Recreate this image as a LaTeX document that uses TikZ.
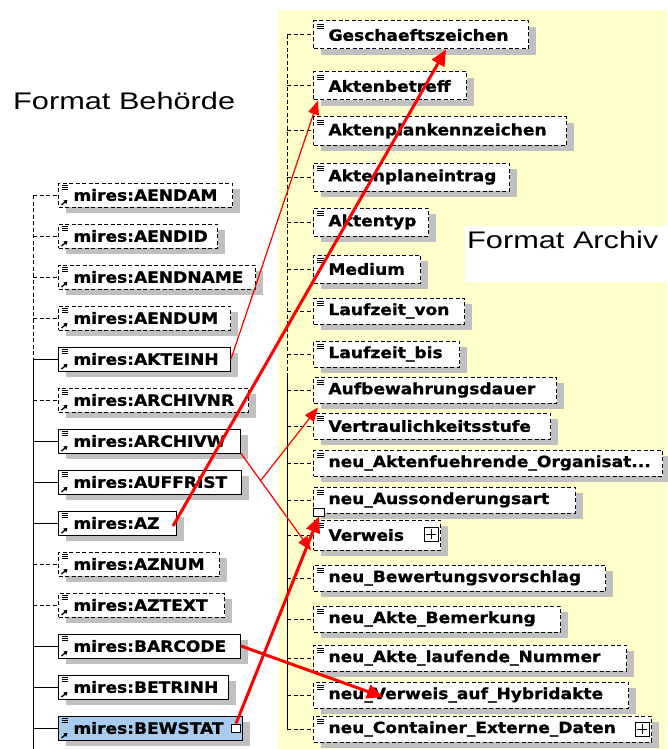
\documentclass[tikz,border=0pt]{standalone}
\usepackage{fontspec}
\usetikzlibrary{arrows.meta,shadows}
\newfontfamily\boxfont[FakeStretch=1.1,FakeBold=1]{DejaVu Sans}
\newfontfamily\titlefont[FakeStretch=1.28]{Liberation Sans}
\definecolor{archivbg}{RGB}{255,255,204}
\definecolor{selblue}{RGB}{168,204,240}
\definecolor{shadowgray}{RGB}{192,192,192}
\hyphenpenalty=10000
\exhyphenpenalty=10000

\begin{document}
\begin{tikzpicture}[x=1pt,y=-1pt]

\tikzstyle{opt} = [dash pattern=on 4pt off 2.5pt]
\tikzstyle{box} = [draw=black, fill=white, line width=1pt, anchor=west, align=left, inner xsep=15pt, inner ysep=0pt, font=\boxfont\bfseries\fontsize{15.5}{17}\selectfont, drop shadow={shadow xshift=7pt, shadow yshift=-6pt, fill=shadowgray, opacity=1}]
\tikzstyle{lbox} = [box, minimum height=24pt, path picture={
  \draw[solid, line width=0.9pt] ([shift={(3pt,-2.5pt)}]path picture bounding box.north west) -- ++(6pt,0pt)
    ([shift={(3pt,-4.7pt)}]path picture bounding box.north west) -- ++(6pt,0pt)
    ([shift={(3pt,-6.9pt)}]path picture bounding box.north west) -- ++(6pt,0pt);
  \draw[solid, line width=1.3pt, -{Triangle[length=3.5pt,width=4.5pt]}] ([shift={(3pt,2pt)}]path picture bounding box.south west) -- ++(6pt,5pt);}]
\tikzstyle{rbox} = [box, opt, minimum height=26pt, path picture={
  \draw[solid, line width=0.9pt] ([shift={(3pt,-3pt)}]path picture bounding box.north west) -- ++(7pt,0pt)
    ([shift={(3pt,-5.2pt)}]path picture bounding box.north west) -- ++(7pt,0pt)
    ([shift={(3pt,-7.4pt)}]path picture bounding box.north west) -- ++(7pt,0pt);}]
\tikzstyle{port} = [draw=black, fill=white, line width=0.9pt, minimum width=9pt, minimum height=8pt, inner sep=0pt]
\tikzstyle{expander} = [draw=black, fill=white, line width=0.9pt, minimum size=14pt, inner sep=0pt, path picture={
  \draw[line width=0.9pt] ([yshift=-2pt]path picture bounding box.north) -- ([yshift=2pt]path picture bounding box.south)
    ([xshift=2pt]path picture bounding box.west) -- ([xshift=-2pt]path picture bounding box.east);}]
\tikzstyle{title} = [inner sep=0pt, anchor=base west, font=\titlefont\fontsize{24}{28}\selectfont]
\tikzstyle{link} = [red, line width=1.2pt, -{Triangle[length=14pt,width=11pt]}]
\tikzstyle{mainlink} = [red, line width=3pt, -{Triangle[length=16pt,width=14pt]}]

\useasboundingbox (0,0) rectangle (667,749);
\fill[archivbg] (278,10) rectangle (667,749);
\fill[white] (465,226) rectangle (667,282);

\node (behoerde) [title] at (13,110) {Format Behörde};
\node (archiv) [title] at (467,248) {Format Archiv};

\coordinate (leftbus) at (33,0);
\coordinate (leftend) at (33,749);
\coordinate (rightbus) at (287,0);
\coordinate (rightsplit) at (287,373);

\node (aendam) [lbox, opt, text width=144pt] at (58,195) {mires:AENDAM};
\node (aendid) [lbox, opt, text width=129pt] at (58,236) {mires:AENDID};
\node (aendname) [lbox, opt, text width=167pt] at (58,277) {mires:AENDNAME};
\node (aendum) [lbox, opt, text width=142pt] at (58,318) {mires:AENDUM};
\node (akteinh) [lbox, text width=142pt] at (58,359) {mires:AKTEINH};
\node (archivnr) [lbox, opt, text width=160pt] at (58,400) {mires:ARCHIVNR};
\node (archivw) [lbox, text width=152pt] at (58,441) {mires:ARCHIVW};
\node (auffrist) [lbox, text width=153pt] at (58,482) {mires:AUFFRIST};
\node (az) [lbox, text width=88pt] at (58,523) {mires:AZ};
\node (aznum) [lbox, opt, text width=131pt] at (58,564) {mires:AZNUM};
\node (aztext) [lbox, opt, text width=136pt] at (58,605) {mires:AZTEXT};
\node (barcode) [lbox, text width=152pt] at (58,646) {mires:BARCODE};
\node (betrinh) [lbox, text width=140pt] at (58,687) {mires:BETRINH};
\node (bewstat) [lbox, fill=selblue, text width=154pt] at (58,728) {mires:BEWSTAT};

\node (geschaeftszeichen) [rbox, minimum height=28pt, text width=185pt] at (313,35) {Geschaeftszeichen};
\node (aktenbetreff) [rbox, minimum height=28pt, text width=123pt] at (313,86) {Aktenbetreff};
\node (aktenplankennzeichen) [rbox, minimum height=28pt, text width=223pt] at (313,131) {Aktenplankennzeichen};
\node (aktenplaneintrag) [rbox, minimum height=28pt, text width=166pt] at (313,177) {Aktenplaneintrag};
\node (aktentyp) [rbox, minimum height=28pt, text width=85pt] at (313,222) {Aktentyp};
\node (medium) [rbox, minimum height=28pt, text width=77pt] at (313,269) {Medium};
\node (laufzeitvon) [rbox, text width=121pt] at (313,311) {Laufzeit\_von};
\node (laufzeitbis) [rbox, text width=116pt] at (313,354) {Laufzeit\_bis};
\node (aufbewahrungsdauer) [rbox, text width=213pt] at (313,390) {Aufbewahrungsdauer};
\node (vertraulichkeit) [rbox, text width=207pt] at (313,426) {Vertraulichkeitsstufe};
\node (organisation) [rbox, text width=319pt] at (313,463) {neu\_Aktenfuehrende\_Organisat...};
\node (aussonderung) [rbox, text width=232pt] at (313,500) {neu\_Aussonderungsart};
\node (verweis) [rbox, minimum height=30pt, text width=97pt] at (313,535) {Verweis};
\node (bewertung) [rbox, text width=262pt] at (313,578) {neu\_Bewertungsvorschlag};
\node (bemerkung) [rbox, text width=217pt] at (313,619) {neu\_Akte\_Bemerkung};
\node (nummer) [rbox, text width=283pt] at (313,658) {neu\_Akte\_laufende\_Nummer};
\node (hybridakte) [rbox, text width=285pt] at (313,695) {neu\_Verweis\_auf\_Hybridakte};
\node (container) [rbox, text width=308pt] at (313,729) {neu\_Container\_Externe\_Daten};

\node (verweisexp) [expander] at (431,534) {};
\node (containerexp) [expander] at (642,729) {};
\node (bewstatport) [port] at (236,728) {};
\node (aussport) [port, minimum width=11pt] at (319,512) {};

\draw[line width=1pt, opt] (leftbus |- aendam) -- (leftbus |- akteinh);
\draw[line width=1pt] (leftbus |- akteinh) -- (leftend);
\draw[line width=1pt, opt] (leftbus |- aendam) -- (aendam.west);
\draw[line width=1pt, opt] (leftbus |- aendid) -- (aendid.west);
\draw[line width=1pt, opt] (leftbus |- aendname) -- (aendname.west);
\draw[line width=1pt, opt] (leftbus |- aendum) -- (aendum.west);
\draw[line width=1pt] (leftbus |- akteinh) -- (akteinh.west);
\draw[line width=1pt, opt] (leftbus |- archivnr) -- (archivnr.west);
\draw[line width=1pt] (leftbus |- archivw) -- (archivw.west);
\draw[line width=1pt] (leftbus |- auffrist) -- (auffrist.west);
\draw[line width=1pt] (leftbus |- az) -- (az.west);
\draw[line width=1pt, opt] (leftbus |- aznum) -- (aznum.west);
\draw[line width=1pt, opt] (leftbus |- aztext) -- (aztext.west);
\draw[line width=1pt] (leftbus |- barcode) -- (barcode.west);
\draw[line width=1pt] (leftbus |- betrinh) -- (betrinh.west);
\draw[line width=1pt] (leftbus |- bewstat) -- (bewstat.west);

\draw[line width=1pt, opt] (rightbus |- geschaeftszeichen) -- (rightsplit);
\draw[line width=1pt] (rightsplit) -- (rightbus |- container);
\draw[line width=1pt, opt] (rightbus |- geschaeftszeichen) -- (geschaeftszeichen.west);
\draw[line width=1pt, opt] (rightbus |- aktenbetreff) -- (aktenbetreff.west);
\draw[line width=1pt, opt] (rightbus |- aktenplankennzeichen) -- (aktenplankennzeichen.west);
\draw[line width=1pt, opt] (rightbus |- aktenplaneintrag) -- (aktenplaneintrag.west);
\draw[line width=1pt, opt] (rightbus |- aktentyp) -- (aktentyp.west);
\draw[line width=1pt, opt] (rightbus |- medium) -- (medium.west);
\draw[line width=1pt, opt] (rightbus |- laufzeitvon) -- (laufzeitvon.west);
\draw[line width=1pt, opt] (rightbus |- laufzeitbis) -- (laufzeitbis.west);
\draw[line width=1pt, opt] (rightbus |- aufbewahrungsdauer) -- (aufbewahrungsdauer.west);
\draw[line width=1pt, opt] (rightbus |- vertraulichkeit) -- (vertraulichkeit.west);
\draw[line width=1pt, opt] (rightbus |- organisation) -- (organisation.west);
\draw[line width=1pt, opt] (rightbus |- aussonderung) -- (aussonderung.west);
\draw[line width=1pt, opt] (rightbus |- verweis) -- (verweis.west);
\draw[line width=1pt, opt] (rightbus |- bewertung) -- (bewertung.west);
\draw[line width=1pt, opt] (rightbus |- bemerkung) -- (bemerkung.west);
\draw[line width=1pt, opt] (rightbus |- nummer) -- (nummer.west);
\draw[line width=1pt, opt] (rightbus |- hybridakte) -- (hybridakte.west);
\draw[line width=1pt, opt] (rightbus |- container) -- (container.west);

\draw[link] (akteinh.east) -- ([xshift=5pt]aktenbetreff.south west);
\draw[mainlink] ([xshift=-4pt,yshift=-3pt]az.east) -- ([xshift=25pt]geschaeftszeichen.south);
\draw[link] (archivw.south east) -- coordinate[pos=0.28] (fork) ([xshift=-2pt]verweis.south west);
\draw[link] (fork) -- ([xshift=5pt,yshift=-4pt]aufbewahrungsdauer.south west);
\draw[mainlink] (bewstatport.north) -- (aussport.south);
\draw[mainlink] (barcode.east) -- ([xshift=70pt,yshift=-2pt]hybridakte.west);
\end{tikzpicture}
\end{document}
